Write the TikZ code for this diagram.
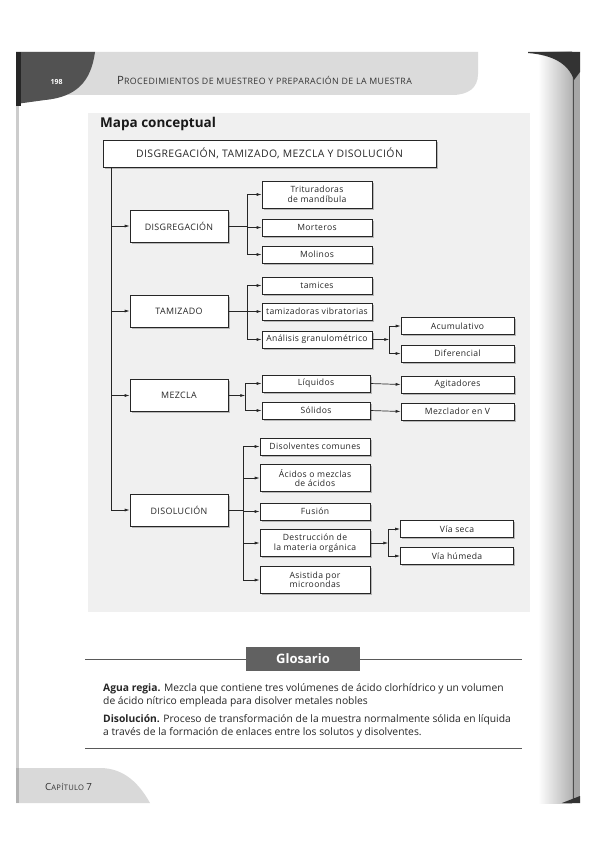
\documentclass[tikz,border=0pt]{standalone}
\usepackage{fontspec}
\setmainfont{Open Sans}
\usetikzlibrary{arrows.meta,shadows}
\newcommand\smc[2]{{\fontsize{11.4}{12}\selectfont #1}{\fontsize{8.8}{9}\selectfont #2}}
\newcommand\lsp{\addfontfeature{LetterSpace=4}}
\tikzset{
 bx/.style={draw=black!85, line width=0.6pt, fill=white,
   drop shadow={shadow xshift=1.8pt, shadow yshift=-1.8pt, fill=black!50},
   align=center, inner sep=1pt, font=\fontsize{8.6}{9.5}\selectfont\lsp, text=black!85},
 lone/.style={bx, minimum width=98pt, minimum height=32pt, font=\fontsize{8.9}{9.5}\selectfont\lsp},
 ltwo/.style={bx, minimum width=110pt, minimum height=17pt},
 ltwot/.style={ltwo, minimum height=27pt},
 lthree/.style={bx, minimum width=113pt, minimum height=17pt},
 con/.style={line width=0.7pt, draw=black!85},
 arr/.style={con, -{Latex[length=5pt,width=3pt]}},
}
\begin{document}
\begin{tikzpicture}[x=1pt,y=-1pt]
\useasboundingbox (0,0) rectangle (600,848);
\fill[white] (0,0) rectangle (600,848);
% page decorations
\fill[black!20] (16,52) rectangle (19,803);
\shade[left color=white, right color=black!30] (538,52) rectangle (572,803);
\fill[black!35] (572,52) rectangle (580,803);
\draw[black!70, line width=0.8pt] (573,70) -- (573,803);
\fill[black!80] (528,52) -- (580,52) -- (580,72) -- (574,80) .. controls (568,63) and (552,55) .. (528,53) -- cycle;
\fill[black!80] (562,803) -- (580,803) -- (580,796) -- cycle;
% header band
\fill[black!14] (16,52) -- (478,52) -- (478,74) .. controls (478,88) and (468,95) .. (452,95) -- (16,95) -- cycle;
\fill[black!68] (16,52) -- (95,52) .. controls (91,82) and (76,97) .. (45,100) -- (16,104) -- cycle;
\fill[black!85] (16,52) rectangle (21,106);
\node[anchor=west, text=white, font=\bfseries\fontsize{7}{7}\selectfont] (pg) at (47,82) {198};
\node[anchor=west, text=black!80, inner sep=0pt, font=\addfontfeature{LetterSpace=5}] (hd) at (117,80) {\smc{P}{ROCEDIMIENTOS DE MUESTREO Y PREPARACIÓN DE LA MUESTRA}};
% footer
\fill[black!15] (16,768) -- (100,768) .. controls (125,768) and (140,785) .. (150,803) -- (16,803) -- cycle;
\fill[black!30] (16,768) rectangle (19,803);
\node[anchor=west, text=black!80, inner sep=0pt, font=\fontsize{7.6}{8}\selectfont\addfontfeature{LetterSpace=4}] (ft) at (45,787) {{\fontsize{9.8}{10}\selectfont C}APÍTULO {\fontsize{9.8}{10}\selectfont 7}};
% panel
\fill[black!6] (88,113) rectangle (530,612);
\node[anchor=west, inner sep=0pt, font=\bfseries\fontsize{13.5}{14}\selectfont, text=black!90] (mc) at (100,124) {Mapa conceptual};

% boxes
\node[bx, minimum width=333pt, minimum height=27pt, font=\fontsize{10.4}{11}\selectfont\lsp] (top) at (269.5,153.5) {DISGREGACIÓN, TAMIZADO, MEZCLA Y DISOLUCIÓN};

\node[lone] (dis) at (179,226) {DISGREGACIÓN};
\node[lone] (tam) at (179,311) {TAMIZADO};
\node[lone] (mez) at (179,395.5) {MEZCLA};
\node[lone] (dsl) at (179,510) {DISOLUCIÓN};

\node[ltwot] (tri) at (317,194.5) {Trituradoras\\de mandíbula};
\node[ltwo] (mor) at (317,227.5) {Morteros};
\node[ltwo] (mol) at (317,254.5) {Molinos};
\node[ltwo] (tmc) at (317,285.5) {tamices};
\node[ltwo] (tvb) at (317,311.5) {tamizadoras vibratorias};
\node[ltwo] (ana) at (317,339.5) {Análisis granulométrico};
\node[ltwo, minimum width=108pt] (liq) at (316,383.5) {Líquidos};
\node[ltwo, minimum width=108pt] (sol) at (316,410.5) {Sólidos};
\node[ltwo] (dco) at (315,446.5) {Disolventes comunes};
\node[ltwot] (aci) at (315,478) {Ácidos o mezclas\\de ácidos};
\node[ltwo] (fus) at (315,511.5) {Fusión};
\node[ltwot] (des) at (315,543) {Destrucción de\\la materia orgánica};
\node[ltwot] (asi) at (315,580) {Asistida por\\microondas};

\node[lthree] (acu) at (457.5,326) {Acumulativo};
\node[lthree] (dif) at (457.5,353.5) {Diferencial};
\node[lthree] (agi) at (457.5,384.5) {Agitadores};
\node[lthree] (mzv) at (457.5,411.5) {Mezclador en V};
\node[lthree] (vse) at (457,529) {Vía seca};
\node[lthree] (vhu) at (457,556) {Vía húmeda};

% spine
\coordinate (sp) at ([xshift=9pt]top.south west);
\draw[arr] (sp) |- (dis.west);
\draw[arr] (sp) |- (tam.west);
\draw[arr] (sp) |- (mez.west);
\draw[arr] (sp) |- (dsl.west);

% disgregacion
\coordinate (bdis) at ([xshift=19pt]dis.east);
\draw[con] (dis.east) -- (bdis);
\draw[arr] (bdis) |- (tri.west);
\draw[arr] (bdis) |- (mor.west);
\draw[arr] (bdis) |- (mol.west);
% tamizado
\coordinate (btam) at ([xshift=19pt]tam.east);
\draw[con] (tam.east) -- (btam);
\draw[arr] (btam) |- (tmc.west);
\draw[arr] (btam) |- (tvb.west);
\draw[arr] (btam) |- (ana.west);
\coordinate (bana) at ([xshift=17pt]ana.east);
\draw[arr] (ana.east) -- (bana);
\draw[arr] (bana) |- (acu.west);
\draw[arr] (bana) |- (dif.west);
% mezcla
\coordinate (bmez) at ([xshift=17pt]mez.east);
\draw[arr] (mez.east) -- (bmez);
\draw[arr] (bmez) |- (liq.west);
\draw[arr] (bmez) |- (sol.west);
\draw[arr] (liq.east) -- (agi.west);
\draw[arr] (sol.east) -- (mzv.west);
% disolucion
\coordinate (bdsl) at ([xshift=15pt]dsl.east);
\draw[con] (dsl.east) -- (bdsl);
\draw[arr] (bdsl) |- (dco.west);
\draw[arr] (bdsl) |- (aci.west);
\draw[arr] (bdsl) |- (fus.west);
\draw[arr] (bdsl) |- (des.west);
\draw[arr] (bdsl) |- (asi.west);
\coordinate (bdes) at ([xshift=18pt]des.east);
\draw[arr] (des.east) -- (bdes);
\draw[arr] (bdes) |- (vse.west);
\draw[arr] (bdes) |- (vhu.west);

% glosario
\coordinate (gl1) at (85,659);
\coordinate (gl2) at (522,659);
\draw[line width=0.8pt, black!65] (gl1) -- (gl2);
\node[fill=black!62, text=white, font=\bfseries\fontsize{13}{13}\selectfont, minimum width=114pt, minimum height=24pt] (glo) at (303,659) {Glosario};
\begin{scope}[every node/.style={anchor=west, inner sep=0pt, text=black!85, font=\fontsize{10.3}{10.5}\selectfont}]
\node (t1) at (103,689) {\textbf{Agua regia.} Mezcla que contiene tres volúmenes de ácido clorhídrico y un volumen};
\node (t2) at (103,702) {de ácido nítrico empleada para disolver metales nobles};
\node (t3) at (103,720) {\textbf{Disolución.} Proceso de transformación de la muestra normalmente sólida en líquida};
\node (t4) at (103,733) {a través de la formación de enlaces entre los solutos y disolventes.};
\end{scope}
\coordinate (gl3) at (85,748);
\coordinate (gl4) at (522,748);
\draw[line width=0.8pt, black!65] (gl3) -- (gl4);
\end{tikzpicture}
\end{document}
